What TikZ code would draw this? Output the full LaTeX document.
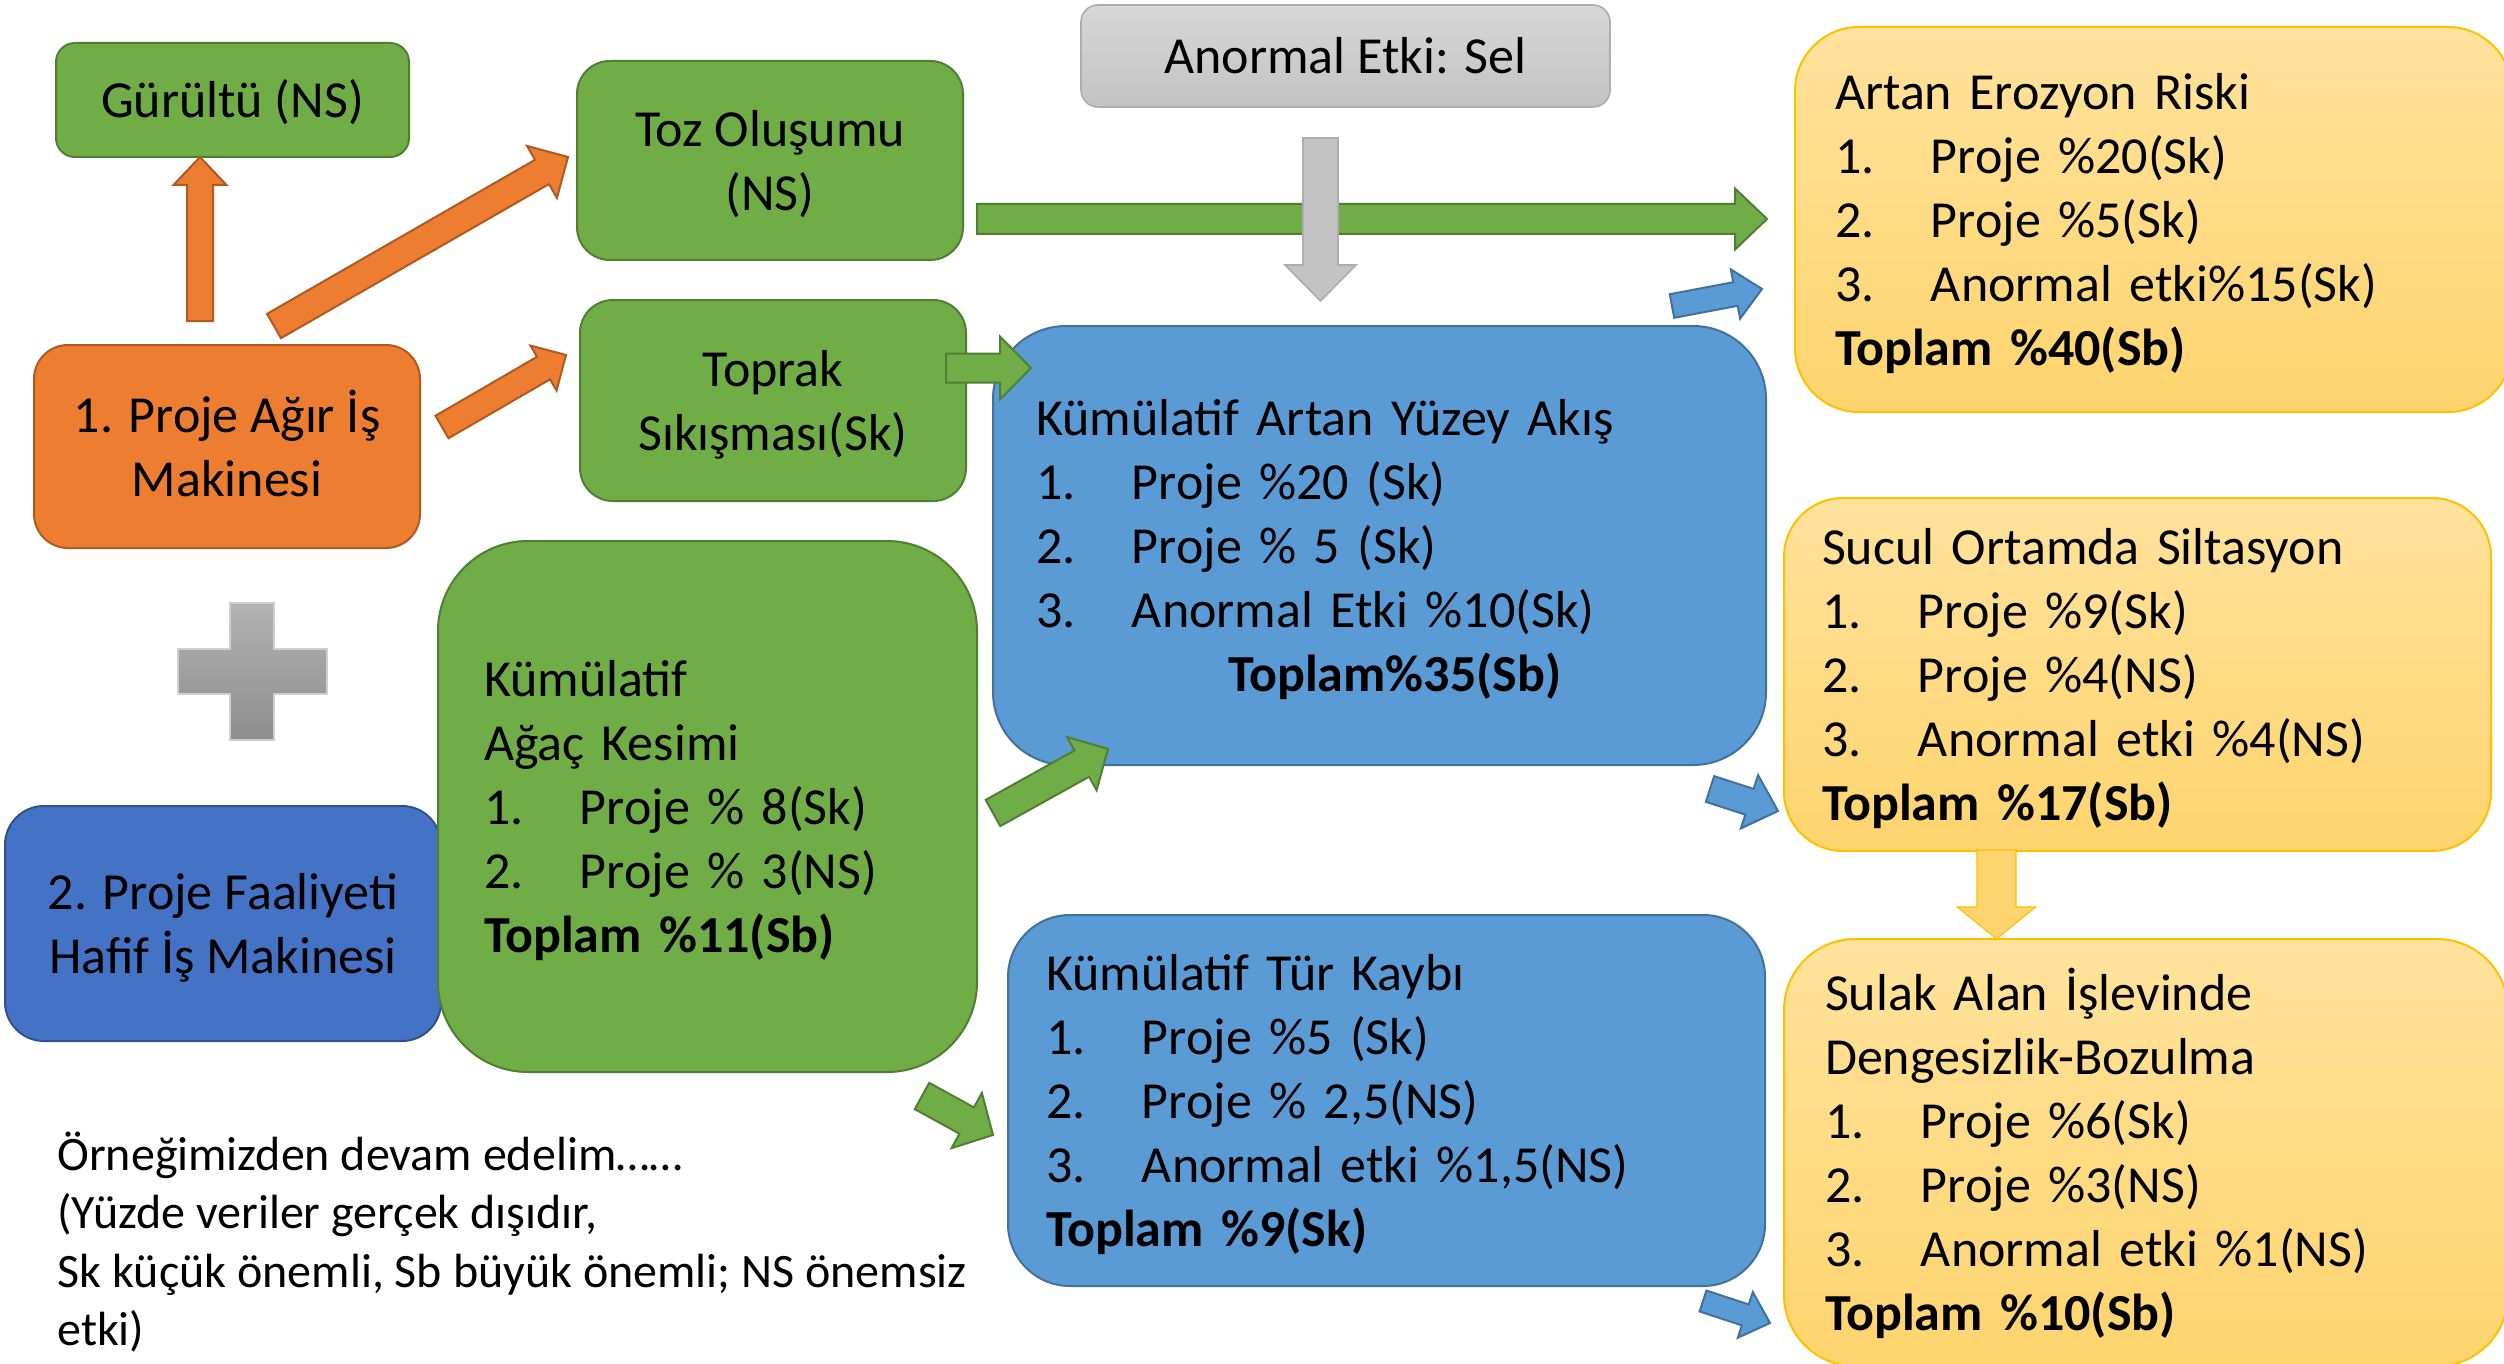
\documentclass[tikz,border=0pt]{standalone}
\usepackage{fontspec}
\setmainfont{Carlito}
\usetikzlibrary{calc}
\definecolor{gfill}{HTML}{70AD47}
\definecolor{gdraw}{HTML}{507E32}
\definecolor{ofill}{HTML}{ED7D31}
\definecolor{odraw}{HTML}{AE5A21}
\definecolor{bfill}{HTML}{5B9BD5}
\definecolor{bdraw}{HTML}{41719C}
\definecolor{dbfill}{HTML}{4472C4}
\definecolor{dbdraw}{HTML}{2F528F}
\definecolor{ytop}{HTML}{FFE29C}
\definecolor{ybot}{HTML}{FFD46E}
\definecolor{ydraw}{HTML}{FFC000}
\definecolor{graytop}{HTML}{D7D7D7}
\definecolor{graybot}{HTML}{C3C3C3}
\definecolor{graydraw}{HTML}{ADADAD}
\definecolor{plustop}{HTML}{B2B2B2}
\definecolor{plusbot}{HTML}{8E8E8E}
\definecolor{plusdraw}{HTML}{CFCFCF}
\newcommand\mainsz{\fontsize{26pt}{32pt}\selectfont}
\newcommand\itm[2]{\makebox[48pt][l]{#1}#2}
\newcommand\myTop{\rule{0pt}{24.75pt}}
\newcommand\myBot{\rule[-7pt]{0pt}{7pt}}
% block arrow: style, from, to, half shaft, half head, head length
\newcommand\blockarrow[6]{%
  \path ($(#3)!#6!(#2)$) coordinate (ba-h);
  \draw[#1] ($(#2)!#4!90:(#3)$) -- ($(ba-h)!#4!-90:(#2)$) -- ($(ba-h)!#5!-90:(#2)$)
    -- (#3) -- ($(ba-h)!#5!90:(#2)$) -- ($(ba-h)!#4!90:(#2)$) -- ($(#2)!#4!-90:(#3)$) -- cycle;
}
\begin{document}
\begin{tikzpicture}[x=0.5pt,y=-0.5pt,
  box/.style={line width=1pt, rounded corners=#1, inner sep=0pt, font=\mainsz, text=black},
  gbox/.style={fill=gfill, draw=gdraw},
  obox/.style={fill=ofill, draw=odraw},
  bbox/.style={fill=bfill, draw=bdraw},
  dbbox/.style={fill=dbfill, draw=dbdraw},
  ybox/.style={top color=ytop, bottom color=ybot, draw=ydraw},
  graybox/.style={top color=graytop, bottom color=graybot, draw=graydraw},
  oarr/.style={fill=ofill, draw=odraw, line width=1pt, line join=miter},
  garr/.style={fill=gfill, draw=gdraw, line width=1pt, line join=miter},
  barr/.style={fill=bfill, draw=bdraw, line width=1pt, line join=miter},
  grarr/.style={fill=graybot, draw=graydraw, line width=0.8pt, line join=miter},
  yarr/.style={fill=ybot, draw=ydraw, line width=0.6pt, line join=miter},
  listbox/.style={align=left}
]
\fill[white] (0,0) rectangle (2504,1364);
\clip (0,0) rectangle (2504,1364);

% boxes
\node[box=9.5pt, gbox, minimum width=176.5pt, minimum height=57pt, align=center] (gurultu) at (232.5,100) {\myTop Gürültü (NS)\myBot};
\node[box=16.5pt, gbox, minimum width=193pt, minimum height=99.5pt, align=center] (toz) at (770,160.5) {\myTop Toz Oluşumu\\(NS)\myBot};
\node[box=16.5pt, gbox, minimum width=193pt, minimum height=100.5pt, align=center] (toprak) at (773,400.5) {\myTop Toprak\\Sıkışması(Sk)\myBot};
\node[box=17pt, obox, minimum width=193pt, minimum height=101.5pt, align=center] (agir) at (227,446.5) {\myTop 1. Proje Ağır İş\\Makinesi\myBot};
\node[box=8.5pt, graybox, line width=0.8pt, minimum width=264.5pt, minimum height=51pt, align=center] (sel) at (1345.5,56) {\myTop Anormal Etki: Sel\myBot};

\node[box=36.5pt, bbox, listbox, inner xsep=21.5pt, text width=343.5pt, minimum height=219.5pt] (akis) at (1379.5,545.5)
  {\myTop Kümülatif Artan Yüzey Akış\\
   \itm{1.}{Proje \%20 (Sk)}\\
   \itm{2.}{Proje \% 5 (Sk)}\\
   \itm{3.}{Anormal Etki \%10(Sk)}\\
   \hspace*{96pt}\textbf{Toplam\%35(Sb)}\myBot};

\node[box=19.5pt, dbbox, minimum width=218pt, minimum height=117.5pt, align=center] (hafif) at (223,923.5) {\myTop 2. Proje Faaliyeti\\Hafif İş Makinesi\myBot};

\node[box=45pt, gbox, listbox, inner xsep=23pt, text width=223.5pt, minimum height=265.5pt] (agac) at (707.5,806.5)
  {\myTop Kümülatif\\
   Ağaç Kesimi\\
   \itm{1.}{Proje \% 8(Sk)}\\
   \itm{2.}{Proje \% 3(NS)}\\
   \textbf{Toplam \%11(Sb)}\myBot};

\node[box=31pt, bbox, listbox, inner xsep=19pt, text width=340.5pt, minimum height=185.5pt] (tur) at (1386.5,1100.5)
  {\myTop Kümülatif Tür Kaybı\\
   \itm{1.}{Proje \%5 (Sk)}\\
   \itm{2.}{Proje \% 2,5(NS)}\\
   \itm{3.}{Anormal etki \%1,5(NS)}\\
   \textbf{Toplam \%9(Sk)}\myBot};

\node[box=32pt, ybox, listbox, inner xsep=20pt, text width=318.5pt, minimum height=192.5pt] (erozyon) at (2153.5,219.5)
  {\myTop Artan Erozyon Riski\\
   \itm{1.}{Proje \%20(Sk)}\\
   \itm{2.}{Proje \%5(Sk)}\\
   \itm{3.}{Anormal etki\%15(Sk)}\\
   \textbf{Toplam \%40(Sb)}\myBot};

\node[box=29.5pt, ybox, listbox, inner xsep=19pt, text width=315.5pt, minimum height=176.5pt] (silt) at (2137.5,674.5)
  {\myTop Sucul Ortamda Siltasyon\\
   \itm{1.}{Proje \%9(Sk)}\\
   \itm{2.}{Proje \%4(NS)}\\
   \itm{3.}{Anormal etki \%4(NS)}\\
   \textbf{Toplam \%17(Sb)}\myBot};

\node[box=35.5pt, ybox, listbox, inner xsep=20.5pt, text width=321pt, minimum height=213.5pt] (sulak) at (2146,1152.5)
  {\myTop Sulak Alan İşlevinde\\
   Dengesizlik-Bozulma\\
   \itm{1.}{Proje \%6(Sk)}\\
   \itm{2.}{Proje \%3(NS)}\\
   \itm{3.}{Anormal etki \%1(NS)}\\
   \textbf{Toplam \%10(Sb)}\myBot};

% plus sign
\path[top color=plustop, bottom color=plusbot, draw=plusdraw, line width=0.6pt]
  (230,603) -- (274,603) -- (274,649) -- (327,649) -- (327,694) -- (274,694)
  -- (274,740) -- (230,740) -- (230,694) -- (178,694) -- (178,649) -- (230,649) -- cycle;

% note
\node[anchor=west, align=left, inner sep=0pt, font=\fontsize{24pt}{29.3pt}\selectfont] (note) at (57,1242)
  {Örneğimizden devam edelim……\\
   (Yüzde veriler gerçek dışıdır,\\
   Sk küçük önemli, Sb büyük önemli; NS önemsiz\\
   etki)};

% arrow end points
\coordinate (a1s) at (200,321);   \coordinate (a1e) at (200,157);
\coordinate (a2s) at (274,326);   \coordinate (a2e) at (568,157);
\coordinate (a3s) at (442,427);   \coordinate (a3e) at (566,355);
\coordinate (a4s) at (977,219);   \coordinate (a4e) at (1767,219);
\coordinate (a5s) at (1320.5,138); \coordinate (a5e) at (1320.5,301);
\coordinate (a6s) at (946,368);   \coordinate (a6e) at (1031,368);
\coordinate (a7s) at (1672,306);  \coordinate (a7e) at (1762,289);
\coordinate (a8s) at (993,813);   \coordinate (a8e) at (1108,749);
\coordinate (a9s) at (1710,789);  \coordinate (a9e) at (1778,811);
\coordinate (a10s) at (922,1096); \coordinate (a10e) at (993,1135);
\coordinate (a11s) at (1996.5,850); \coordinate (a11e) at (1996.5,939);
\coordinate (a12s) at (1703,1301); \coordinate (a12e) at (1770,1323);

\blockarrow{oarr}{a1s}{a1e}{6.5pt}{13.25pt}{14pt}
\blockarrow{oarr}{a2s}{a2e}{7pt}{15pt}{15pt}
\blockarrow{oarr}{a3s}{a3e}{6.5pt}{13pt}{13pt}
\blockarrow{garr}{a4s}{a4e}{7.5pt}{15.25pt}{16pt}
\blockarrow{grarr}{a5s}{a5e}{8.75pt}{17.75pt}{18pt}
\blockarrow{garr}{a6s}{a6e}{7.25pt}{15.75pt}{15.5pt}
\blockarrow{barr}{a7s}{a7e}{6pt}{12.5pt}{13.5pt}
\blockarrow{garr}{a8s}{a8e}{7.5pt}{15.25pt}{15pt}
\blockarrow{barr}{a9s}{a9e}{6.75pt}{14pt}{15pt}
\blockarrow{garr}{a10s}{a10e}{7.5pt}{15.75pt}{15pt}
\blockarrow{yarr}{a11s}{a11e}{9.75pt}{19.5pt}{16pt}
\blockarrow{barr}{a12s}{a12e}{5.5pt}{12pt}{13pt}
\end{tikzpicture}
\end{document}
